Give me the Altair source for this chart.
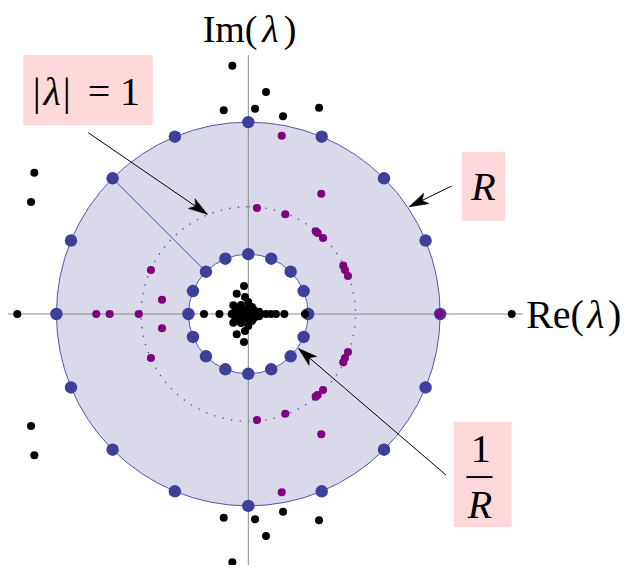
import altair as alt
import pandas as pd

# ---------------- data (complex plane units) ----------------
R_OUT = 1.79
R_IN = 0.558
R_UNIT = 1.0

blue_outer_re = [1.79, 1.654, 1.266, 0.685, 0.0, -0.685, -1.266, -1.654, -1.79, -1.654, -1.266, -0.685, 0.0, 0.685, 1.266, 1.654]
blue_outer_im = [0.0, 0.685, 1.266, 1.654, 1.79, 1.654, 1.266, 0.685, 0.0, -0.685, -1.266, -1.654, -1.79, -1.654, -1.266, -0.685]
blue_inner_re = [0.558, 0.516, 0.395, 0.214, 0.0, -0.214, -0.395, -0.516, -0.558, -0.516, -0.395, -0.214, 0.0, 0.214, 0.395, 0.516]
blue_inner_im = [0.0, 0.214, 0.395, 0.516, 0.558, 0.516, 0.395, 0.214, 0.0, -0.214, -0.395, -0.516, -0.558, -0.516, -0.395, -0.214]

purple_re = [0.312, 0.681, 0.081, 0.345, 0.629, 0.647, 0.697, 0.886, 0.902, 0.930, -0.908, -0.805,
             -1.418, -1.293, -1.022, 1.784,
             0.312, 0.681, 0.081, 0.345, 0.629, 0.647, 0.697, 0.886, 0.902, 0.930, -0.908, -0.805]
purple_im = [1.663, 1.122, 0.989, 0.930, 0.771, 0.756, 0.709, 0.451, 0.410, 0.354, 0.410, 0.133,
             0.0, 0.0, 0.0, 0.0,
             -1.663, -1.122, -0.989, -0.930, -0.771, -0.756, -0.709, -0.451, -0.410, -0.354, -0.410, -0.133]

black_re = [-0.149, 0.165, -0.229, 0.063, 0.324, 0.660, -1.996, -2.027,
            -0.149, 0.165, -0.229, 0.063, 0.324, 0.660, -1.996, -2.027,
            -2.155, 2.457, -0.413, -0.269, 0.258, 0.336, 0.529,
            -0.155, -0.096, -0.040, 0.016, 0.072, 0.118, 0.166, 0.212,
            -0.040, -0.108, -0.031, -0.140, -0.068, 0.000, 0.035, -0.077, -0.012, 0.053, 0.100, -0.120,
            -0.040, -0.108, -0.031, -0.140, -0.068, 0.000, 0.035, -0.077, -0.012, 0.053, 0.100, -0.120]
black_im = [2.316, 2.071, 1.900, 1.915, 1.844, 1.924, 1.318, 1.045,
            -2.316, -2.071, -1.900, -1.915, -1.844, -1.924, -1.318, -1.045,
            0.0, 0.0, 0.0, 0.0, 0.0, 0.0, 0.0,
            0.0, 0.0, 0.0, 0.0, 0.0, 0.0, 0.0, 0.0,
            0.261, 0.189, 0.159, 0.081, 0.084, 0.112, 0.065, 0.047, 0.047, 0.037, 0.022, 0.040,
            -0.261, -0.189, -0.159, -0.081, -0.084, -0.112, -0.065, -0.047, -0.047, -0.037, -0.022, -0.040]

# ---------------- view / scales ----------------
W, H = 615, 557
XMIN, XMAX = -2.2416, 3.4954
YMIN, YMAX = -2.3414, 2.8545
PX_PER_UNIT = 107.2

xs = alt.Scale(domain=[XMIN, XMAX], nice=False, zero=False)
ys = alt.Scale(domain=[YMIN, YMAX], nice=False, zero=False)
rs = alt.Scale(type="linear", domain=[0, 2], range=[0, 2 * PX_PER_UNIT], zero=True)

FONT = "Liberation Serif"
PINK = "#ffd9da"
FILL = "#d9d9ea"
LINE_BLUE = "#5656ac"
DOT_BLUE = "#3e3e9b"
PURPLE = "#800080"


def X(f="x"):
    return alt.X(f"{f}:Q", scale=xs, axis=None)


def Y(f="y"):
    return alt.Y(f"{f}:Q", scale=ys, axis=None)


# annulus
ann_df = pd.DataFrame({"x": [0.0], "y": [0.0], "r": [R_OUT], "r2": [R_IN]})
annulus = alt.Chart(ann_df).mark_arc(
    theta=0, theta2=6.2832, fill=FILL, stroke=LINE_BLUE, strokeWidth=1
).encode(x=X(), y=Y(), radius=alt.Radius("r:Q", scale=rs), radius2="r2:Q")

# dotted unit circle
unit_df = pd.DataFrame({"x": [0.0], "y": [0.0], "r": [R_UNIT]})
unit_circle = alt.Chart(unit_df).mark_arc(
    theta=0, theta2=6.2832, fill="transparent", stroke=LINE_BLUE, strokeWidth=1.4,
    strokeDash=[1.4, 7.2]
).encode(x=X(), y=Y(), radius=alt.Radius("r:Q", scale=rs))

# radial line
rad_df = pd.DataFrame({"x": [-1.266], "y": [1.266], "x2": [-0.395], "y2": [0.395]})
radial = alt.Chart(rad_df).mark_rule(color=LINE_BLUE, strokeWidth=1).encode(
    x=X(), y=Y(), x2="x2:Q", y2="y2:Q")

# coordinate axes
ax_df = pd.DataFrame({"x": [XMIN, 0.0], "y": [0.0, 2.416], "x2": [2.563, 0.0], "y2": [0.0, YMIN]})
axes = alt.Chart(ax_df).mark_rule(color="#8a8a8a", strokeWidth=1).encode(
    x=X(), y=Y(), x2="x2:Q", y2="y2:Q")

# label boxes
box_x1 = [-2.099, 1.991, 1.916]
box_x2 = [-0.892, 2.395, 2.457]
box_y1 = [2.416, 1.514, -1.005]
box_y2 = [1.763, 0.870, -1.990]
box_df = pd.DataFrame({"x": box_x1, "x2": box_x2, "y": box_y1, "y2": box_y2})
boxes = alt.Chart(box_df).mark_rect(color=PINK).encode(x=X(), y=Y(), x2="x2:Q", y2="y2:Q")

# arrows
arr_x1 = [-1.493, 1.897, 1.844]
arr_y1 = [1.691, 1.194, -1.502]
arr_x2 = [-0.382, 1.502, 0.468]
arr_y2 = [0.930, 1.001, -0.322]
arr_ang = [34.4, 154.0, 220.6]
arr_df = pd.DataFrame({"x": arr_x1, "y": arr_y1, "x2": arr_x2, "y2": arr_y2, "a": arr_ang})
shafts = alt.Chart(arr_df).mark_rule(color="black", strokeWidth=1).encode(
    x=X(), y=Y(), x2="x2:Q", y2="y2:Q")
heads = alt.Chart(arr_df).mark_point(
    shape="M0,0 L-2,-0.62 L-1.5,0 L-2,0.62 Z", filled=True, fill="black", stroke="black",
    strokeWidth=0.5, size=361, opacity=1
).encode(x=X("x2"), y=Y("y2"), angle=alt.Angle("a:Q", scale=None))

# points
blue_df = pd.DataFrame({"x": blue_outer_re + blue_inner_re, "y": blue_outer_im + blue_inner_im})
blue = alt.Chart(blue_df).mark_circle(color=DOT_BLUE, size=155, opacity=1).encode(x=X(), y=Y())
purple_df = pd.DataFrame({"x": purple_re, "y": purple_im})
purple = alt.Chart(purple_df).mark_circle(color=PURPLE, size=66, opacity=1).encode(x=X(), y=Y())
black_df = pd.DataFrame({"x": black_re, "y": black_im})
black = alt.Chart(black_df).mark_circle(color="black", size=64, opacity=1).encode(x=X(), y=Y())

# fraction bar of 1/R
frac_df = pd.DataFrame({"x": [2.035], "x2": [2.278], "y": [-1.521]})
frac_bar = alt.Chart(frac_df).mark_rule(color="black", strokeWidth=2).encode(x=X(), x2="x2:Q", y=Y())


# texts
def txt(t, x, y, align="center", style="normal", size=40):
    df = pd.DataFrame({"x": [x], "y": [y], "t": [t]})
    return alt.Chart(df).mark_text(
        font=FONT, fontSize=size, align=align, baseline="alphabetic", fontStyle=style, color="black"
    ).encode(x=X(), y=Y(), text="t:N")


IM_Y = 2.537
RE_Y = -0.133
ABS_Y = 1.945
texts = [
    # Im(λ)
    txt("Im(", 0.086, IM_Y, align="right", size=38),
    txt("λ", 0.208, IM_Y, style="italic", size=38),
    txt(")", 0.330, IM_Y, align="left", size=38),
    # Re(λ)
    txt("Re(", 3.131, RE_Y, align="right"),
    txt("λ", 3.243, RE_Y, style="italic"),
    txt(")", 3.355, RE_Y, align="left"),
    # |λ| = 1
    txt("|", -1.974, ABS_Y),
    txt("λ", -1.830, ABS_Y, style="italic"),
    txt("|", -1.694, ABS_Y),
    txt("=", -1.393, ABS_Y),
    txt("1", -1.104, ABS_Y),
    # R and 1/R
    txt("R", 2.194, 1.063, style="italic"),
    txt("1", 2.168, -1.378),
    txt("R", 2.160, -1.906, style="italic"),
]

chart = alt.layer(
    annulus, unit_circle, axes, radial, boxes, shafts, heads, blue, purple, black,
    frac_bar, *texts
).properties(
    width=W, height=H, padding=0, autosize=alt.AutoSizeParams(type="none")
).configure_view(stroke=None)

chart.save("out.html", embed_options={"renderer": "svg", "actions": False})
